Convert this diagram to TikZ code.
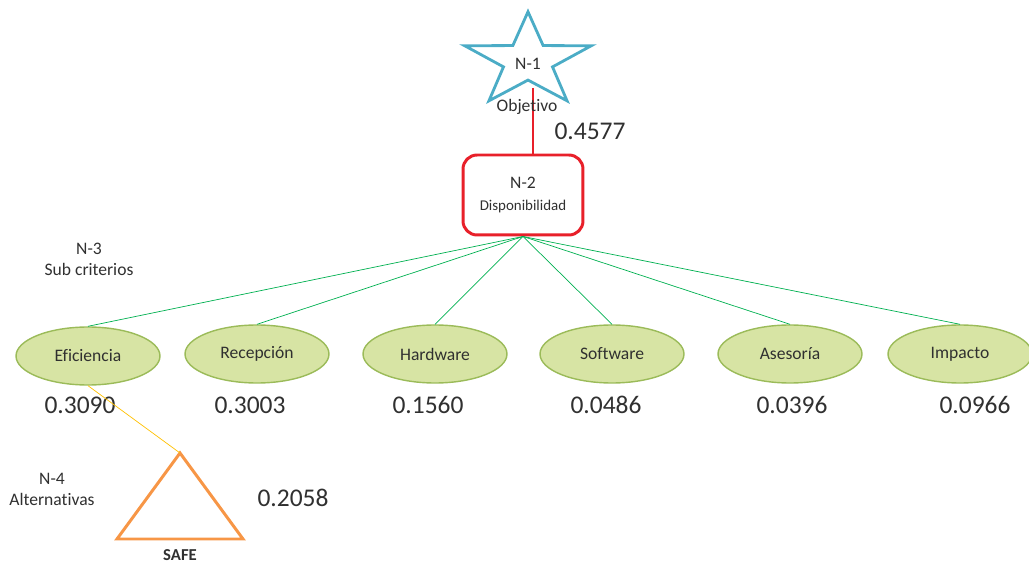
\documentclass[tikz,border=0pt]{standalone}
\usepackage{fontspec}
\setmainfont{Carlito}[Ligatures=NoCommon]
\usetikzlibrary{shapes.geometric}

\definecolor{starblue}{HTML}{4BACC6}
\definecolor{boxred}{HTML}{E8202A}
\definecolor{linkgreen}{HTML}{00B050}
\definecolor{ellfill}{HTML}{D7E4A4}
\definecolor{elldraw}{HTML}{9BBB59}
\definecolor{altorange}{HTML}{F79646}
\definecolor{linkyellow}{HTML}{FFC000}
\definecolor{txt}{HTML}{303030}

\begin{document}
\begin{tikzpicture}
            [x=0.02cm, y=-0.02cm, thin, text=txt,
             lbl/.style={font=\fontsize{10}{12}\selectfont, align=center, inner sep=0pt},
             val/.style={font=\fontsize{14.5}{16}\selectfont, inner sep=0pt},
             crit/.style={shape=ellipse, draw=elldraw, fill=ellfill, thick, minimum width=2.88cm,
                          minimum height=1.16cm, inner sep=0pt, font=\fontsize{10}{12}\selectfont}]
            \useasboundingbox (0, 0) rectangle (1029, 564);

            % level 1
            \node[shape=star, star points=5, star point ratio=2.58, minimum size=1.97cm, inner sep=0pt,
                  draw=starblue, line width=1.6pt, xscale=1.35] (obj) at (528, 61) {};
            \node[lbl] (n1) at (528, 64) {N-1};
            \coordinate (objin) at (533, 88);
            \node[val] (w1) at (590, 131) {0.4577};

            % level 2
            \node[shape=rectangle, draw=boxred, line width=1.7pt, rounded corners=8pt, minimum width=2.4cm,
                  minimum height=1.6cm, align=center, inner sep=0pt] (disp) at (523, 195)
                  {\fontsize{10}{11.4}\selectfont N-2\\[1pt]\fontsize{8.5}{10}\selectfont Disponibilidad};
            \draw [boxred, line width=0.6pt] (objin) -- (objin |- disp.north);
            \node[lbl] (objtxt) at (527, 107) {Objetivo};

            % level 3
            \node[lbl] (n3) at (89, 259) {N-3\\Sub criterios};
            \node[crit] (efi) at (88, 356) {Eficiencia};
            \node[crit] (rec) at (257, 354) {Recepción};
            \node[crit] (hw) at (435, 354) {Hardware};
            \node[crit] (sw) at (612, 354) {Software};
            \node[crit] (ase) at (790, 354) {Asesoría};
            \node[crit] (imp) at (960, 354) {Impacto};
            \node[val] (w2) at (80, 405) {0.3090};
            \node[val] (w3) at (250, 405) {0.3003};
            \node[val] (w4) at (428, 405) {0.1560};
            \node[val] (w5) at (606, 405) {0.0486};
            \node[val] (w6) at (792, 405) {0.0396};
            \node[val] (w7) at (975, 405) {0.0966};

            \foreach \c in {efi, rec, hw, sw, ase, imp}
                \path [draw=linkgreen] (disp.south) -- (\c.north);

            % level 4
            \node[lbl] (n4) at (52, 489) {N-4\\Alternativas};
            \coordinate (safe) at (180, 453);
            \draw[altorange, line width=1.7pt, line join=miter] (safe) -- ++(-63, 86) -- ++(126, 0) -- cycle;
            \node[font=\fontsize{9.5}{11}\selectfont\bfseries, inner sep=0pt] (safetxt) at (180, 555) {SAFE};
            \node[val] (w8) at (293, 498) {0.2058};
            \path [draw=linkyellow] (efi.south) -- (safe);
        \end{tikzpicture}
\end{document}
